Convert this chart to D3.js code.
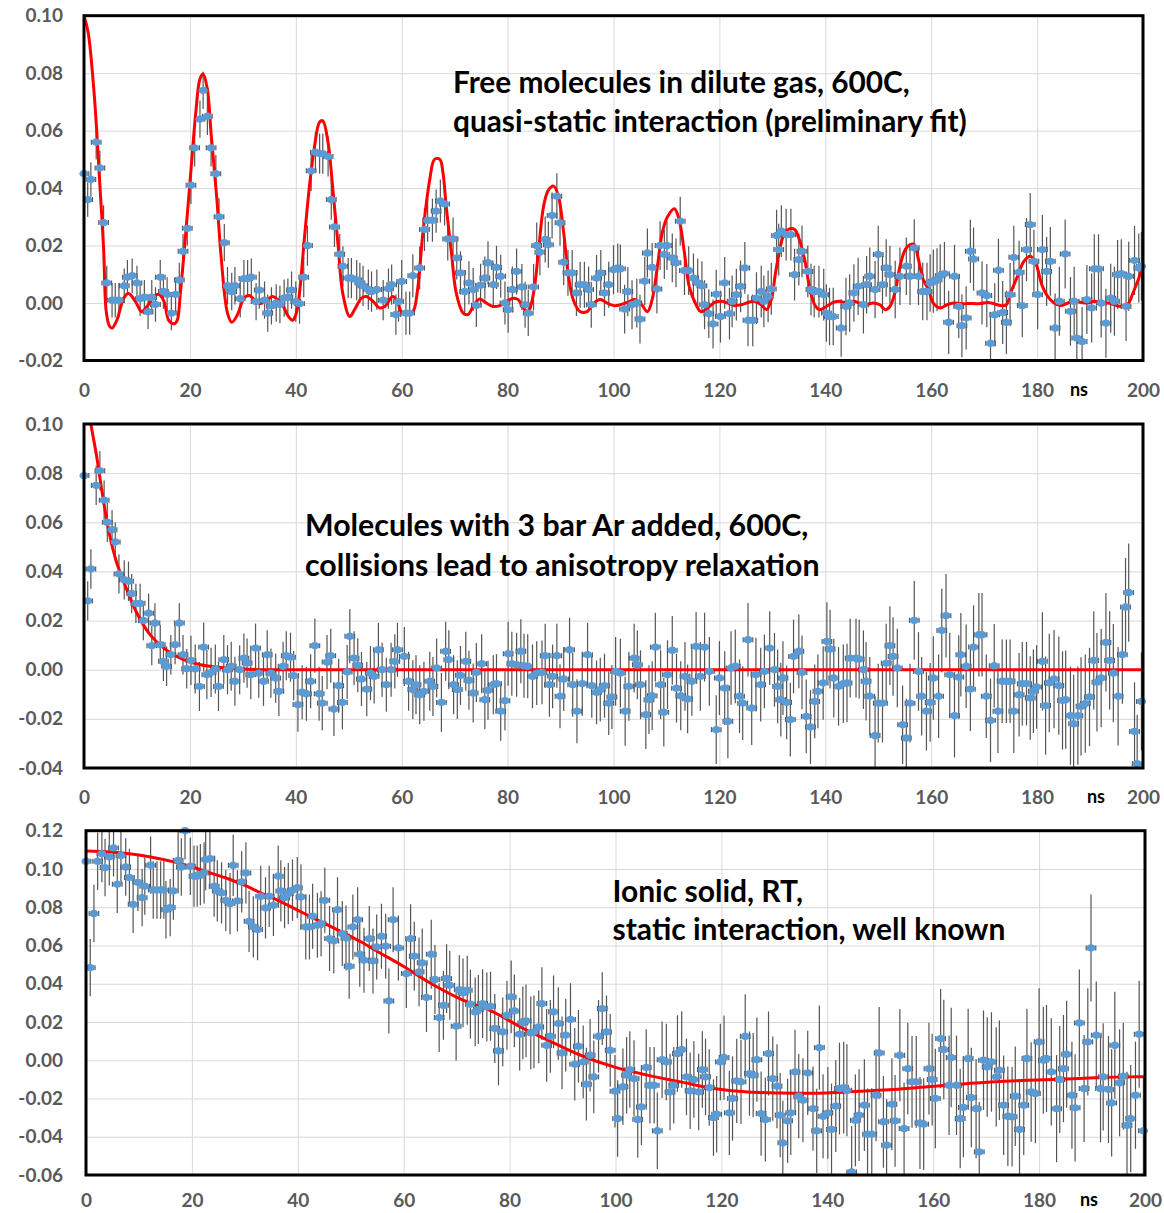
<!DOCTYPE html>
<html><head><meta charset="utf-8">
<script src="https://cdn.jsdelivr.net/npm/d3@7"></script>
<style>
html,body{margin:0;padding:0;background:#fff;}
svg{display:block;font-family:Lato,"Open Sans",sans-serif;}
</style></head><body>
<svg id="c" width="1164" height="1213"></svg>
<script>
// ---------- data ----------
const xTicks = [0,20,40,60,80,100,120,140,160,180,200];
const gasYTicks = [-0.02,0,0.02,0.04,0.06,0.08,0.10];
const arYTicks = [-0.04,-0.02,0,0.02,0.04,0.06,0.08,0.10];
const solidYTicks = [-0.06,-0.04,-0.02,0,0.02,0.04,0.06,0.08,0.10,0.12];

// error bar half-lengths per 20 ns bin
const gasErr = [0.006,0.0065,0.007,0.0075,0.008,0.0085,0.009,0.010,0.011,0.012];
const arErr = [0.008,0.010,0.011,0.012,0.013,0.014,0.015,0.016,0.017,0.020];
const solidErr = [0.015,0.016,0.017,0.018,0.019,0.020,0.022,0.024,0.026,0.028];
const timeErr = 0.9; // ns, horizontal error

// Panel 1: free molecules (t [ns], value)
const gasPoints = [[0,0.045],[0.7,0.036],[1.3,0.043],[2.3,0.056],[3.0,0.047],[3.7,0.028],[4.3,0.007],[5.3,0.001],[5.9,0.001],[6.6,0.001],[7.6,0.006],[8.2,0.009],[9.1,0.0095],[10,0.007],[10.6,0.0015],[11.4,0.002],[12.1,-0.003],[12.8,0.002],[13.5,-0.0005],[14.4,0.009],[15,0.004],[15.7,0.003],[16.5,-0.0035],[17.3,0.003],[18,0.008],[18.7,0.018],[19.5,0.026],[20.2,0.041],[20.9,0.054],[21.9,0.064],[22.5,0.074],[23.3,0.065],[24,0.054],[24.9,0.045],[25.5,0.030],[26.5,0.021],[27.1,0.006],[27.9,0.004],[28.5,0.006],[29.5,0.0015],[30.2,0.0085],[30.9,0.0085],[31.6,0.009],[32.5,0.0005],[33.1,0.0045],[34.1,0.001],[34.7,-0.0035],[35.4,-0.001],[36.3,0],[37,-0.0005],[37.8,0.0017],[38.5,0.002],[39.2,0.0045],[40,0.0005],[40.7,-0.0002],[41.5,0.009],[42.2,0.020],[42.9,0.046],[43.7,0.0525],[44.5,0.052],[45.1,0.052],[46.1,0.051],[46.7,0.036],[47.3,0.0265],[48.3,0.017],[48.9,0.0128],[49.9,0.0087],[50.5,0.0087],[51.5,0.008],[52.1,0.007],[52.7,0.006],[53.7,0.0047],[54.3,0.004],[55.3,0.0047],[56.5,0.001],[57.5,0.005],[58.1,0.0064],[58.9,-0.004],[59.4,0.0005],[60,0.0075],[60.8,-0.0035],[61.5,-0.0035],[62.1,0.0095],[63.4,0.0122],[64.3,0.0256],[64.9,0.0288],[65.8,0.0288],[66.5,0.032],[67.3,0.0355],[68.1,0.0345],[68.7,0.0223],[69.7,0.0223],[70.4,0.0157],[71.1,0.0105],[71.9,0.004],[72.7,0.007],[73.5,0.0047],[74.1,-0.0008],[74.9,0.0062],[75.7,0.0087],[76.3,0.014],[77.3,0.0064],[77.9,0.0124],[78.7,0.0093],[79.5,0],[80.1,-0.0023],[80.9,0.0047],[81.7,0.011],[82.7,0.0056],[83.3,-0.0006],[83.9,-0.0035],[84.9,0.0056],[85.5,0.020],[86.1,0.0177],[87.1,0.0221],[87.7,0.0203],[88.4,0.0305],[89.3,0.0372],[89.9,0.0279],[90.6,0.0142],[91.4,0.0105],[92.2,0.0105],[93,0.0035],[93.7,0.0064],[94.5,0.0064],[95.3,0.0047],[95.8,-0.0006],[96.8,0.0087],[97.6,0.0105],[98.3,0.0035],[99.1,0.0064],[100,0.0116],[100.8,0.0122],[101.3,0.0119],[102.1,-0.0021],[102.7,0.004],[103.5,-0.0006],[104.4,0],[105,-0.0056],[105.9,0.0076],[106.4,0.0174],[107.3,0.0124],[108.2,0.0049],[108.8,0.020],[109.6,0.0169],[110.1,0.020],[111.1,0.0157],[111.8,0.014],[112.6,0.0285],[113.4,0.0113],[114.2,0.0113],[115.1,0.0087],[115.9,0.007],[116.7,0.006],[117.2,-0.0006],[118,-0.0037],[118.8,-0.0073],[119.4,0.0031],[120.2,-0.0047],[121,0.007],[121.9,-0.0037],[122.4,0.0006],[123.2,0.0029],[124,0.0058],[124.8,0.0122],[125.4,-0.006],[126.3,-0.006],[127,0.0017],[127.9,0.004],[128.4,0.0006],[129.2,0.0023],[129.8,0.0049],[130.8,0.0235],[131.2,0.0186],[131.7,0.025],[132.6,0.0238],[133.5,0.0238],[134.2,0.0099],[135,0.0151],[135.6,0.018],[136.7,0.011],[137.3,0.0047],[137.9,0.004],[138.8,0.004],[139.7,0.0029],[140.2,-0.0035],[140.8,-0.0047],[141.5,-0.0047],[143,-0.0087],[143.9,-0.0012],[144.6,0],[145.4,0.0035],[146.2,0.0058],[147.2,-0.0006],[147.8,0.0064],[148.4,0.0093],[149.4,0.0047],[150,0.0169],[150.8,0.0064],[151.5,0.0122],[152.2,0.0099],[153.2,0.0047],[154.1,0.0093],[155.3,0.0128],[156,0.0093],[156.8,0.0192],[157.6,0.0093],[158.4,0.004],[159.2,0.004],[159.8,0.007],[160.4,0.0076],[161.1,0.0081],[161.7,0.0095],[162.5,0.0102],[163.3,-0.0067],[164.4,0.0093],[165.2,-0.0012],[165.8,-0.0079],[166.6,-0.0052],[167.4,0.018],[168,0.0153],[169.6,0.0035],[170.5,0.0026],[171.2,-0.014],[172,-0.0041],[172.7,0.0114],[173.5,-0.0033],[174.2,-0.0067],[174.9,0.0029],[175.6,0.0159],[176.6,0.0107],[177.2,-0.0009],[178,0.0186],[178.7,0.0273],[179.4,0.0145],[180.1,0.0029],[181,0.0186],[181.8,0.011],[182.5,0.0145],[183.4,-0.0087],[184.2,0.0006],[185.3,0.0171],[186.3,-0.0029],[187,0.0006],[187.5,-0.0122],[188.5,-0.0134],[189.4,0.0012],[190.3,-0.0017],[190.8,0.0119],[191.6,0.0119],[192.1,0],[193,-0.007],[193.9,0.0017],[194.6,0.0006],[195.2,0.0099],[195.9,0.0102],[196.8,-0.0012],[197.3,0.0093],[198.4,0.0148],[199.2,0.0122],[199.7,0.0128]];

const gasFit = [[0,0.100],[0.8,0.094],[1.8,0.0756],[2.4,0.060],[3.0,0.041],[3.7,0.019],[4.2,-0.003],[4.8,-0.008],[5.3,-0.0087],[6.2,-0.006],[7.5,0.0017],[8.4,0.0033],[9.7,0.0006],[10.9,-0.003],[11.9,-0.0012],[13.2,0.0023],[14.1,0.003],[15.1,0.0006],[16,-0.006],[17,-0.0072],[17.6,-0.006],[18.2,0.0035],[19.2,0.024],[20.1,0.044],[21.1,0.066],[21.9,0.078],[22.5,0.0797],[23.3,0.0744],[24,0.059],[25.1,0.036],[25.9,0.016],[27.1,-0.0035],[27.9,-0.0067],[29,-0.004],[30.2,0.0017],[31.2,0.0026],[32.5,0.0006],[33.4,-0.0002],[34.7,0.0012],[35.6,0.0023],[36.6,0.0012],[37.8,-0.0017],[38.5,-0.0044],[39.4,-0.006],[40.1,-0.0035],[40.7,0.0035],[41.6,0.022],[42.6,0.041],[43.5,0.054],[44.5,0.063],[45.1,0.0634],[46.1,0.0558],[47,0.0395],[48,0.0198],[48.9,0.003],[50.2,-0.0047],[51.1,-0.0023],[52.4,0.0017],[53.3,0.0023],[54.6,0.0006],[55.8,-0.0017],[56.8,-0.0012],[58.3,0.0023],[59.2,0.0005],[59.9,-0.003],[60.8,-0.0037],[62.1,-0.003],[63,0.0047],[64,0.0244],[65.3,0.043],[66.2,0.050],[67.2,0.050],[67.8,0.0453],[68.4,0.0337],[69.4,0.0174],[70.3,0.0035],[71.6,-0.0035],[72.5,-0.004],[73.5,-0.0012],[74.7,0.0014],[76,0],[77.3,-0.0012],[78.5,-0.0009],[79.8,0.0006],[81.1,0.0017],[82,0.0012],[83,-0.0017],[83.9,-0.003],[84.9,0.0035],[85.8,0.0174],[86.8,0.0337],[87.7,0.0393],[88.7,0.0407],[89.6,0.0372],[90.6,0.0244],[91.5,0.0093],[92.5,0.0006],[93.7,-0.003],[95,-0.003],[96.3,0],[97.5,0.0012],[98.8,0],[100.1,-0.0009],[101.3,-0.0006],[102.6,0.0002],[103.9,0.0012],[105.1,0],[106.4,-0.003],[107.3,0.0012],[108.3,0.0128],[109.2,0.0244],[110.2,0.030],[111.5,0.0328],[112.4,0.029],[113.4,0.0174],[114.3,0.0058],[115.6,-0.0006],[116.5,-0.003],[117.8,-0.0017],[119.1,0.0002],[120.3,0.0006],[121.6,0],[122.8,-0.0009],[124.1,-0.0006],[125.4,0.0002],[126.6,0.0006],[127.9,-0.0006],[128.9,-0.0023],[129.8,0.0012],[130.6,0.0105],[131.4,0.0186],[132.3,0.0244],[133.2,0.0258],[134.2,0.0256],[135.1,0.0221],[136.1,0.0151],[137,0.0058],[138,-0.0006],[138.9,-0.0023],[140.2,-0.0012],[141.5,0.0002],[142.7,0.0006],[144,0],[145.3,0.0006],[146.5,0],[147.8,-0.0006],[149,0],[150.3,-0.0006],[151.3,-0.0023],[152.2,-0.0012],[153.2,0.004],[154.1,0.0128],[155.1,0.0186],[156,0.0203],[156.8,0.0203],[157.6,0.0151],[158.5,0.0081],[159.5,0.0047],[160.4,0],[161.7,-0.0017],[163,-0.0006],[164.2,0],[165.5,-0.0002],[166.8,-0.0002],[168,-0.0002],[169.3,-0.0002],[170.6,0.0002],[171.8,-0.0002],[173.1,-0.0009],[174.2,-0.0006],[175,0.0035],[176.3,0.0093],[177.5,0.0145],[178.7,0.0163],[179.7,0.014],[181,0.0058],[182,0.0023],[183.2,0],[184.5,-0.0009],[185.8,0],[187,0.0006],[188.3,0.0002],[189.6,0],[190.8,0.0006],[192.1,0.0002],[193.4,0],[194.6,-0.0006],[195.9,-0.0012],[197.2,-0.0002],[198.1,0.0035],[199.1,0.0081],[200,0.0128]];

// Panel 2: molecules with Ar
const arPoints = [[0,0.079],[0.7,0.028],[1.3,0.041],[2.3,0.075],[3.0,0.081],[3.8,0.069],[4.4,0.060],[5.3,0.057],[5.9,0.052],[6.6,0.039],[7.6,0.0366],[8.4,0.036],[9.0,0.031],[9.8,0.027],[10.6,0.027],[11.2,0.020],[12.2,0.023],[12.8,0.0098],[13.4,0.019],[14.4,0.0102],[15,0.0034],[15.6,0.0014],[16.4,0.0061],[17.2,0.0102],[18,0.019],[18.7,0.0061],[19.4,0.0004],[20.2,0.0038],[21,0.0003],[21.8,-0.0068],[22.6,0.0092],[23.2,-0.002],[24,-0.0011],[24.8,0.0003],[25.4,-0.0068],[26.4,0.0041],[27.1,0],[27.8,0.0014],[28.5,-0.0047],[29.4,0],[30.2,0.0047],[30.8,0.0027],[31.5,-0.002],[32.4,0.0088],[33,-0.0014],[33.9,-0.0047],[34.6,0.0061],[35.3,-0.0014],[36.2,-0.0034],[36.8,-0.0088],[37.6,0.0014],[38.2,0.0057],[39,0.0051],[39.6,-0.0024],[40.4,-0.0142],[41.2,-0.0092],[42,-0.0098],[42.8,-0.0047],[43.6,0.0098],[44.4,-0.0098],[45,-0.0136],[45.9,0.0031],[46.6,0.0057],[47.2,-0.016],[48.1,-0.0065],[48.8,-0.0133],[49.7,-0.0009],[50.2,0.0136],[51,0.0047],[51.7,0.0018],[52.4,-0.0038],[53.4,-0.0079],[54.1,-0.0014],[54.8,-0.0027],[55.6,0.0081],[56.3,0],[57.1,-0.0061],[58,0],[58.7,0.0034],[59.2,0.0081],[60.5,0.0054],[61.3,-0.0047],[62.1,-0.0081],[62.7,-0.0061],[63.4,-0.0102],[64.2,-0.0088],[65.3,-0.0047],[65.9,-0.0068],[66.6,0.0007],[67.5,-0.0133],[68.3,0.0075],[68.9,0.0041],[69.8,-0.0061],[70.5,-0.0081],[71.1,-0.0023],[72.1,0.0034],[72.7,-0.0043],[73.5,-0.0095],[74.1,-0.0011],[75.1,0.0024],[75.7,-0.0122],[76.3,-0.0084],[77.3,-0.0061],[77.9,-0.0057],[78.7,-0.0169],[79.5,-0.0126],[80.1,0.0065],[80.8,0.0024],[81.7,0.002],[82.5,0.0075],[83.1,0.0016],[83.8,0.0014],[84.7,-0.0027],[85.5,-0.0014],[86.5,-0.0011],[87.1,0.0057],[87.9,-0.0061],[88.5,-0.0027],[89.3,0.0057],[89.9,-0.0108],[90.6,-0.0038],[91.7,0.0081],[92.3,-0.0061],[93.1,-0.0169],[94.1,-0.0057],[95.1,0.0061],[95.9,-0.0065],[96.8,-0.0092],[97.5,-0.0081],[98.3,-0.0065],[99.1,-0.0136],[99.7,-0.0111],[100.4,-0.0007],[101.3,-0.0014],[102.2,-0.0169],[102.9,-0.0068],[103.9,0.0047],[104.5,0.002],[105.1,-0.0061],[106.1,-0.0183],[106.7,-0.0122],[107.3,-0.0106],[107.9,0.0092],[108.9,-0.0061],[109.5,-0.0173],[110.2,-0.002],[111.1,0.0079],[111.9,-0.0075],[112.7,-0.0106],[113.5,-0.0027],[114,-0.0119],[114.8,-0.0047],[115.6,0.0095],[116.4,-0.0027],[117.2,0.0092],[118.1,-0.0007],[119.4,-0.0244],[120,-0.0034],[121,-0.0075],[121.6,-0.021],[122.2,0.0007],[123,0.0014],[123.8,-0.0108],[124.4,-0.0136],[125.4,0.0122],[126.1,-0.0156],[126.9,-0.002],[127.8,-0.0061],[128.5,-0.0007],[129.5,0.0088],[130.4,0],[131,-0.0068],[131.6,-0.0122],[132,-0.0034],[132.7,-0.0133],[133.4,-0.0203],[134,0.0054],[135,0.0075],[135.6,-0.0011],[136.4,-0.019],[137.2,-0.0233],[138,-0.0129],[138.6,-0.0088],[139.6,-0.0054],[140.3,0.0115],[140.9,0.0084],[141.6,-0.0034],[142.5,-0.0068],[143.4,-0.0057],[144.1,-0.0054],[144.7,0.0047],[145.8,0.0047],[146.4,0.0043],[147.2,0],[147.7,-0.0047],[148.4,-0.0108],[149.4,-0.0268],[150,-0.0136],[150.8,-0.0136],[151.5,0.0027],[152.2,0.0098],[152.8,0.0054],[153.6,0.0007],[154.6,-0.0224],[155.3,-0.0278],[156,-0.0136],[156.8,0.0201],[157.6,-0.0007],[158.2,-0.0108],[159.1,-0.0169],[159.8,-0.0133],[160.4,-0.0034],[161.4,-0.0108],[162,0.016],[162.8,0.022],[163.5,-0.002],[164.4,-0.0187],[165.2,-0.003],[165.6,0.0061],[166.6,0.0014],[167.4,-0.0079],[168,0.0092],[169,0.0142],[169.6,0.0142],[170.4,-0.0108],[171.2,-0.0206],[171.9,0.0016],[172.6,-0.0169],[173.4,-0.0047],[174.2,-0.0047],[174.9,-0.0047],[175.6,-0.0169],[176.6,-0.0102],[177.2,-0.0057],[178,-0.0057],[178.7,-0.0115],[179.3,-0.0088],[179.9,-0.007],[181,0.0034],[181.6,-0.0146],[182.3,-0.0054],[183.2,-0.0038],[184.1,-0.0065],[184.8,-0.0125],[185.4,-0.0122],[186.3,-0.0187],[186.9,-0.022],[187.7,-0.0187],[188.3,-0.0149],[189.1,-0.0138],[189.9,-0.0111],[190.7,0.0038],[191.3,-0.0051],[192.1,-0.0034],[193,0.0111],[193.7,0.0038],[194.4,-0.0014],[195.3,-0.0108],[196.1,0.0061],[196.7,0.0255],[197.3,0.0314],[198.4,-0.0251],[198.9,-0.0383],[199.7,-0.0129]];

const arFit = [[0.9,0.106],[1.3,0.100],[2.4,0.0867],[3.7,0.0684],[4.9,0.0542],[6.2,0.0434],[8.1,0.0325],[10,0.023],[12.5,0.0142],[15.6,0.0079],[18.8,0.0041],[22,0.002],[25.7,0.0009],[29.5,0.0003],[34.6,0],[60,0],[100,0],[150,0],[200,0]];

// Panel 3: ionic solid
const solidPoints = [[0,0.104],[0.8,0.0484],[1.5,0.0767],[2.2,0.104],[3,0.108],[3.6,0.1007],[4.4,0.1063],[5.2,0.111],[5.9,0.092],[6.6,0.107],[7.5,0.101],[8.2,0.0955],[8.9,0.0815],[9.8,0.093],[10.6,0.085],[11.1,0.091],[12.2,0.102],[12.7,0.089],[13.4,0.089],[14.1,0.089],[14.7,0.089],[15.1,0.0787],[15.9,0.0798],[16.5,0.0885],[17.4,0.1045],[18,0.101],[18.7,0.12],[19.7,0.1014],[20.4,0.0962],[21,0.0962],[21.6,0.097],[22.3,0.0979],[22.6,0.1049],[23.4,0.1054],[24.2,0.091],[24.8,0.0885],[25.6,0.0875],[26.4,0.0836],[27.2,0.0819],[27.8,0.1019],[28.6,0.0833],[29.4,0.0932],[30.2,0.0979],[30.8,0.0726],[31.6,0.0697],[32.4,0.0683],[33,0.0857],[33.9,0.0796],[34.6,0.0857],[35.4,0.081],[36.3,0.0962],[36.8,0.0885],[37.5,0.085],[38.2,0.0871],[39,0.0889],[39.9,0.0902],[40.6,0.0854],[41.5,0.0697],[42.2,0.0697],[42.8,0.0753],[43.7,0.0706],[44.4,0.0714],[45.1,0.0836],[46,0.0636],[46.8,0.0624],[47.5,0.0787],[48.4,0.0662],[49.1,0.0639],[49.7,0.0491],[50.4,0.0697],[51.3,0.0735],[51.7,0.0554],[52.5,0.0523],[53.5,0.0636],[54.2,0.0519],[54.9,0.0592],[55.8,0.0648],[56.6,0.0596],[57.2,0.031],[58,0.0735],[59,0.0587],[60.5,0.0453],[61.3,0.0636],[62,0.0544],[62.9,0.0462],[63.5,0.0509],[64.3,0.0328],[65.2,0.0554],[65.9,0.0422],[66.7,0.0223],[67.5,0.0287],[68.1,0.0427],[68.7,0.0392],[69.9,0.0178],[70.5,0.0369],[71.2,0.0352],[72,0.0366],[72.6,0.0293],[73.5,0.0253],[74.1,0.0265],[74.9,0.0296],[75.7,0.0279],[76.4,0.0282],[77.2,0.0166],[77.9,0.0049],[78.7,0.0148],[79.5,0.0235],[80.3,0.0331],[80.9,0.0258],[81.9,0.0136],[82.5,0.0195],[83.1,0.0206],[84,0.0143],[84.6,0.0148],[85.5,0.0174],[86.1,0.0296],[87,0.0078],[87.7,0.0125],[88.3,0.0253],[89.2,0.0192],[89.9,0.0038],[90.6,0.0131],[91.5,0.0213],[92.3,-0.0021],[93,0.0073],[93.9,-0.0009],[94.5,-0.0125],[95.2,0.0026],[95.9,-0.0087],[96.8,0.0125],[97.5,0.027],[98.3,0.0148],[99,0.0052],[99.9,-0.0162],[100.4,-0.0305],[101.4,-0.0139],[102.1,-0.0078],[102.7,-0.0049],[103.5,-0.0096],[104.2,-0.031],[104.9,-0.0244],[105.8,-0.0038],[106.5,-0.0131],[107.3,-0.0131],[107.9,-0.0369],[108.8,0.0003],[109.6,-0.0009],[110.3,-0.0166],[111,-0.0131],[111.7,0.0035],[112.5,0.0056],[113.4,-0.0087],[114.1,-0.016],[114.8,-0.0101],[115.7,-0.0166],[116.4,-0.0049],[117,-0.0087],[117.7,-0.0143],[118.5,-0.030],[119.1,-0.0282],[119.8,-0.0009],[120.5,0.0014],[121.5,-0.0275],[122.1,-0.020],[122.9,-0.0108],[123.7,-0.0113],[124.5,0.0125],[125.3,-0.007],[126,-0.0078],[126.7,0.0003],[127.5,-0.0279],[128.3,-0.031],[128.9,0.0035],[129.7,-0.0096],[130.5,-0.0136],[131.1,-0.0287],[131.6,-0.0432],[132.5,-0.0317],[133.1,-0.0275],[133.9,-0.0061],[134.6,-0.0188],[135.4,-0.0209],[136.3,-0.0066],[137.3,-0.0253],[138,-0.0369],[138.5,0.0066],[139.2,-0.0293],[140.1,-0.0275],[140.8,-0.0362],[141.6,-0.024],[142.3,-0.0148],[143.1,-0.0143],[143.7,-0.0157],[144.6,-0.0584],[145.3,-0.0314],[146,-0.0287],[147,-0.0235],[147.6,-0.0387],[148.4,-0.0387],[149.2,-0.0183],[149.8,0.0038],[150.6,-0.0322],[151.2,-0.0444],[152.2,-0.023],[152.8,-0.0317],[153.7,0.0026],[154.5,-0.0357],[155.2,-0.0044],[156,-0.0113],[156.8,-0.0113],[157.5,-0.0328],[158.2,-0.0334],[159.2,-0.0044],[159.8,-0.0101],[160.4,-0.020],[161.4,0.0113],[162,0.0056],[163,-0.0131],[163.4,0.0014],[164.4,-0.0131],[165.1,-0.0305],[165.7,-0.0247],[166.6,0.0009],[167.2,-0.0195],[168.1,-0.0253],[168.7,-0.0479],[169.5,0],[170.2,-0.0035],[171,-0.0009],[171.9,-0.0087],[172.5,-0.0052],[173.3,-0.0235],[174.1,-0.0293],[174.9,-0.0296],[175.5,-0.0188],[176.3,-0.0362],[177.1,-0.0235],[177.7,0.0009],[178.5,-0.0166],[179.3,-0.0174],[180,0.0096],[180.8,0],[181.4,0.0009],[182.3,-0.0061],[183.3,-0.0253],[183.9,-0.0101],[184.6,-0.0044],[185.2,0.0031],[186.2,-0.0183],[186.8,-0.0249],[187.6,0.0195],[188.5,-0.0148],[189.2,0.0096],[189.8,0.0587],[190.8,0.0131],[191.6,-0.0148],[192.1,-0.0087],[193.1,-0.0153],[193.7,-0.0223],[194.3,0.0078],[195.2,-0.0118],[195.9,-0.0084],[196.6,-0.034],[197.3,-0.0305],[198.2,-0.0183],[198.9,0.0136],[199.7,-0.0369]];

const solidFit = [[0,0.1094],[4.6,0.1089],[9,0.1077],[12.2,0.1063],[16.6,0.1037],[20.1,0.101],[22.9,0.0984],[26.7,0.095],[29.9,0.0915],[33,0.0875],[36.2,0.0836],[39.4,0.0793],[42.5,0.0749],[45.7,0.0706],[48.9,0.0662],[52,0.0618],[55.2,0.0566],[60,0.049],[64.9,0.0405],[71.2,0.0314],[76.3,0.0261],[82.6,0.0166],[87,0.0108],[93.4,0.0026],[99.7,-0.0035],[106,-0.0078],[112.3,-0.0113],[118.6,-0.0148],[125,-0.0166],[131.3,-0.0171],[139.8,-0.0171],[146.2,-0.0162],[152.5,-0.0153],[158.9,-0.0139],[165.2,-0.0125],[171.6,-0.0113],[177.9,-0.0105],[184.3,-0.0099],[190.6,-0.0092],[197,-0.0087],[200,-0.0087]];

const gasLabel = ["Free molecules in dilute gas, 600C,","quasi-static interaction (preliminary fit)"];
const arLabel = ["Molecules with 3 bar Ar added, 600C,","collisions lead to anisotropy relaxation"];
const solidLabel = ["Ionic solid, RT,","static interaction, well known"];

// ---------- layout ----------
const panels = [
  {pts:gasPoints, fit:gasFit, err:gasErr, yDomain:[-0.02,0.10], yTicks:gasYTicks,
   box:{x0:84,x1:1143,y0:15.7,y1:360.5}, label:gasLabel, lx:453, ly:[93,132], refLine:0, refW:457, nsX:1079, xPad:23},
  {pts:arPoints, fit:arFit, err:arErr, yDomain:[-0.04,0.10], yTicks:arYTicks,
   box:{x0:84,x1:1143,y0:424,y1:768}, label:arLabel, lx:305, ly:[536,575.5], refLine:1, refW:515, nsX:1096, xPad:23},
  {pts:solidPoints, fit:solidFit, err:solidErr, yDomain:[-0.06,0.12], yTicks:solidYTicks,
   box:{x0:86,x1:1145,y0:830.7,y1:1175}, label:solidLabel, lx:612.5, ly:[901.5,940], refLine:1, refW:393, nsX:1089, xPad:19}
];

const svg = d3.select('#c');
const fmt = v => v.toFixed(2);
const TICK = '#595959';

panels.forEach((p,i)=>{
  const b = p.box;
  const x = d3.scaleLinear().domain([0,200]).range([b.x0,b.x1]);
  const y = d3.scaleLinear().domain(p.yDomain).range([b.y1,b.y0]);
  const g = svg.append('g');
  const cid = 'clip'+i;
  svg.append('clipPath').attr('id',cid).append('rect')
    .attr('x',b.x0).attr('y',b.y0).attr('width',b.x1-b.x0).attr('height',b.y1-b.y0);

  // gridlines
  g.append('g').attr('transform',`translate(0,${b.y1})`)
    .call(d3.axisBottom(x).tickValues(xTicks).tickSize(-(b.y1-b.y0)).tickFormat(''))
    .call(a=>{a.select('.domain').remove(); a.selectAll('line').attr('stroke','#d9d9d9').attr('stroke-width',1);});
  g.append('g').attr('transform',`translate(${b.x0},0)`)
    .call(d3.axisLeft(y).tickValues(p.yTicks).tickSize(-(b.x1-b.x0)).tickFormat(''))
    .call(a=>{a.select('.domain').remove(); a.selectAll('line').attr('stroke','#d9d9d9').attr('stroke-width',1);});

  // tick labels
  g.append('g').attr('transform',`translate(${b.x0},0)`)
    .call(d3.axisLeft(y).tickValues(p.yTicks).tickSize(0).tickPadding(b.x0-63).tickFormat(fmt))
    .call(a=>{a.select('.domain').remove(); a.selectAll('text').attr('fill',TICK).attr('font-size',19).attr('font-weight',700).attr('font-family','Lato, sans-serif');});
  g.append('g').attr('transform',`translate(0,${b.y1})`)
    .call(d3.axisBottom(x).tickValues(xTicks).tickSize(0).tickPadding(p.xPad).tickFormat(d3.format('d')))
    .call(a=>{a.select('.domain').remove(); a.selectAll('text').attr('fill',TICK).attr('font-size',19).attr('font-weight',700).attr('font-family','Lato, sans-serif');});
  g.append('text').attr('x',p.nsX).attr('y',b.y1+p.xPad+12).attr('text-anchor','middle')
    .attr('font-size',18).attr('font-weight',700).attr('fill','#000').text('ns');

  // error bars
  const eb = g.append('g').attr('clip-path',`url(#${cid})`).attr('stroke','#555').attr('stroke-width',1.2).attr('fill','none');
  const ev = d => p.err[Math.min(9,Math.floor(d[0]/20))];
  eb.selectAll('line.v').data(p.pts).join('line').attr('class','v')
    .attr('x1',d=>x(d[0])).attr('x2',d=>x(d[0]))
    .attr('y1',d=>y(d[1]+ev(d))).attr('y2',d=>y(d[1]-ev(d)));
  eb.selectAll('line.h').data(p.pts).join('line').attr('class','h')
    .attr('x1',d=>x(d[0]-timeErr)).attr('x2',d=>x(d[0]+timeErr))
    .attr('y1',d=>y(d[1])).attr('y2',d=>y(d[1]));
  eb.selectAll('line.cl').data(p.pts).join('line').attr('class','cl')
    .attr('x1',d=>x(d[0]-timeErr)).attr('x2',d=>x(d[0]-timeErr))
    .attr('y1',d=>y(d[1])-2.5).attr('y2',d=>y(d[1])+2.5);
  eb.selectAll('line.cr').data(p.pts).join('line').attr('class','cr')
    .attr('x1',d=>x(d[0]+timeErr)).attr('x2',d=>x(d[0]+timeErr))
    .attr('y1',d=>y(d[1])-2.5).attr('y2',d=>y(d[1])+2.5);

  // fit line
  g.append('path').datum(p.fit).attr('clip-path',`url(#${cid})`)
    .attr('fill','none').attr('stroke','#ff0000').attr('stroke-width',3).attr('stroke-linejoin','round')
    .attr('d', d3.line().x(d=>x(d[0])).y(d=>y(d[1])).curve(d3.curveCatmullRom.alpha(0.5)));

  // markers
  g.append('g').selectAll('ellipse').data(p.pts).join('ellipse')
    .attr('cx',d=>x(d[0])).attr('cy',d=>y(d[1])).attr('rx',4.6).attr('ry',3.7).attr('fill','#5b9bd5');

  // border
  g.append('rect').attr('x',b.x0).attr('y',b.y0).attr('width',b.x1-b.x0).attr('height',b.y1-b.y0)
    .attr('fill','none').attr('stroke','#000').attr('stroke-width',3);

  // annotation
  const tg = g.append('g').attr('font-weight',700).attr('fill','#000').attr('font-family','Lato, sans-serif');
  const texts = p.label.map((s,k)=>tg.append('text').attr('x',p.lx).attr('y',p.ly[k]).attr('font-size',27).text(s));
  const w = texts[p.refLine].node().getComputedTextLength();
  const fs = 27*p.refW/w;
  texts.forEach(t=>t.attr('font-size',fs));
});
</script>
</body></html>
